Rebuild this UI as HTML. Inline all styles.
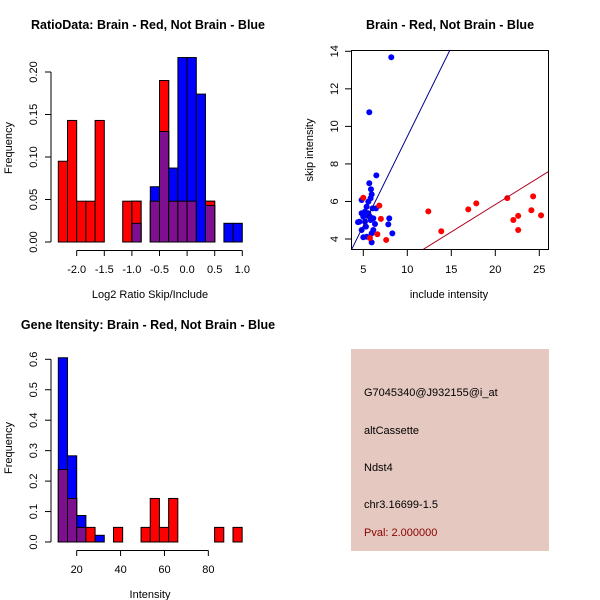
<!DOCTYPE html>
<html><head><meta charset="utf-8"><style>
html,body{margin:0;padding:0;background:#fff;}
svg{display:block;font-family:"Liberation Sans",sans-serif;}
</style></head><body>
<svg id="c" width="600" height="600" viewBox="0 0 600 600"></svg>
<script>
// Panel 1: ratio histogram
const ratioBinStart = -2.3333, ratioBinWidth = 1/6;
const ratioRed = [0.095,0.143,0.048,0.048,0.143,0,0,0.048,0.048,0,0.048,0.19,0.048,0.048,0.048,0,0.048,0,0,0];
const ratioBlue = [0,0,0,0,0,0,0,0,0.022,0,0.065,0.13,0.087,0.217,0.217,0.174,0.043,0,0.022,0.022];
const ratioXTicks = [-2.0,-1.5,-1.0,-0.5,0.0,0.5,1.0];
const ratioXTickLabels = ["-2.0","-1.5","-1.0","-0.5","0.0","0.5","1.0"];
const ratioYTicks = [0,0.05,0.10,0.15,0.20];
const ratioYTickLabels = ["0.00","0.05","0.10","0.15","0.20"];
// Panel 2: scatter
const redInclude = [5.0,6.82,7.0,6.6,7.6,5.76,12.39,13.86,16.93,17.84,21.36,22.05,22.6,22.6,24.1,24.3,25.2];
const redSkip =    [6.2,5.78,5.07,4.25,3.95,4.05,5.47,4.41,5.58,5.90,6.18,5.01,5.23,4.48,5.53,6.27,5.26];
const blueInclude = [8.18,5.68,6.48,5.68,5.87,5.95,5.83,4.81,5.57,5.38,6.06,6.44,5.19,5.57,4.81,5.0,5.76,4.55,5.19,4.81,5.3,6.33,7.95,7.84,8.3,5.0,5.68,5.95,6.14,5.95,5.38,5.83,6.14,5.38,4.4,5.1];
const blueSkip =    [13.68,10.75,7.39,6.97,6.65,6.38,6.17,6.08,5.99,5.72,5.63,5.63,5.46,5.37,5.37,5.19,5.19,4.92,4.92,4.48,4.66,4.8,5.1,4.78,4.3,4.09,4.09,4.3,4.48,3.82,4.12,5.01,5.1,5.28,4.9,5.3];
const blueLine = [3.68,3.45,14.85,14.07];
const redLine = [11.82,3.45,26.02,7.59];
const scatXTicks = [5,10,15,20,25];
const scatYTicks = [4,6,8,10,12,14];
// Panel 3: intensity histogram
const intBinStart = 11.62, intBinWidth = 4.19;
const intRed = [0.238,0.143,0.048,0.048,0,0,0.048,0,0,0.048,0.143,0.048,0.143,0,0,0,0,0.048,0,0.048];
const intBlue = [0.605,0.283,0.087,0,0.022,0,0,0,0,0,0,0,0,0,0,0,0,0,0,0];
const intXTicks = [20,40,60,80];
const intYTicks = [0,0.1,0.2,0.3,0.4,0.5,0.6];
const intYTickLabels = ["0.0","0.1","0.2","0.3","0.4","0.5","0.6"];

const svg = document.getElementById('c');
const NS = 'http://www.w3.org/2000/svg';
function mk(tag, attrs, parent, text){
  const e = document.createElementNS(NS, tag);
  for (const k in attrs) e.setAttribute(k, attrs[k]);
  if (text !== undefined) e.textContent = text;
  (parent||svg).appendChild(e);
  return e;
}
const PURPLE = '#7e1090';

function histogram(name, g, xs, ys, start, width, red, blue, y0) {
  for (let i = 0; i < red.length; i++) {
    const xl = xs(start + i*width), xr = xs(start + (i+1)*width);
    const r = red[i], b = blue[i], m = Math.min(r,b);
    if (r > 0) {
      const e = mk('rect',{x:xl,y:ys(r),width:xr-xl,height:y0-ys(r),fill:'#ff0000',stroke:'#000','stroke-width':1},g);
      
      
    }
    if (b > 0) {
      const e = mk('rect',{x:xl,y:ys(b),width:xr-xl,height:y0-ys(b),fill:'#0000ff',stroke:'#000','stroke-width':1},g);
      
      
    }
    if (r > 0 && b > 0) {
      if (r > b) {
        const e = mk('rect',{x:xl,y:ys(r),width:xr-xl,height:y0-ys(r),fill:'#ff0000',stroke:'#000','stroke-width':1},g);
        
        
      }
      const e = mk('rect',{x:xl,y:ys(m),width:xr-xl,height:y0-ys(m),fill:PURPLE,stroke:'#000','stroke-width':1},g);
      
      
    }
  }
}

// ---------- Panel 1 ----------
(function(){
  const g = mk('g',{});
  
  
  const xs = v => 76.7 + (v + 2.0) * 55.2;
  const ys = v => 242 - v * 850;
  histogram('ratio', g, xs, ys, ratioBinStart, ratioBinWidth, ratioRed, ratioBlue, 242);
  const t = mk('text',{x:148,y:29,'text-anchor':'middle','font-size':12.5,'font-weight':'bold'},g,'RatioData: Brain - Red, Not Brain - Blue');
   
  const ya = mk('line',{x1:51,x2:51,y1:ys(0),y2:ys(0.20),stroke:'#000'},g);
   
  ratioYTicks.forEach((v,i)=>{
    mk('line',{x1:45,x2:51,y1:ys(v),y2:ys(v),stroke:'#000'},g);
    const l = mk('text',{x:0,y:0,transform:`translate(37,${ys(v)}) rotate(-90)`,'text-anchor':'middle','font-size':11},g,ratioYTickLabels[i]);
     
  });
  const xa = mk('line',{x1:xs(-2),x2:xs(1),y1:250.5,y2:250.5,stroke:'#000'},g);
   
  ratioXTicks.forEach((v,i)=>{
    mk('line',{x1:xs(v),x2:xs(v),y1:250.5,y2:256,stroke:'#000'},g);
    const l = mk('text',{x:xs(v),y:273,'text-anchor':'middle','font-size':11},g,ratioXTickLabels[i]);
     
  });
  const xl = mk('text',{x:150,y:298,'text-anchor':'middle','font-size':11},g,'Log2 Ratio Skip/Include');
   
  const yl = mk('text',{x:0,y:0,transform:'translate(12,148) rotate(-90)','text-anchor':'middle','font-size':11},g,'Frequency');
   
})();

// ---------- Panel 2 ----------
(function(){
  const g = mk('g',{});
  
  
  const xs = v => 363.3 + (v - 5) * 8.8;
  const ys = v => 239 - (v - 4) * 18.77;
  mk('clipPath',{id:'sc'},g).appendChild((()=>{const r=document.createElementNS(NS,'rect');r.setAttribute('x',351.5);r.setAttribute('y',50.5);r.setAttribute('width',197);r.setAttribute('height',199);return r;})());
  const t = mk('text',{x:450,y:29,'text-anchor':'middle','font-size':12.5,'font-weight':'bold'},g,'Brain - Red, Not Brain - Blue');
   
  const box = mk('rect',{x:351.5,y:50.5,width:197,height:199,fill:'none',stroke:'#000'},g);
   
  const cg = mk('g',{'clip-path':'url(#sc)'},g);
  blueInclude.forEach((v,i)=>{
    const c = mk('circle',{cx:xs(v),cy:ys(blueSkip[i]),r:3,fill:'#0000ff'},cg);
     
  });
  redInclude.forEach((v,i)=>{
    const c = mk('circle',{cx:xs(v),cy:ys(redSkip[i]),r:3,fill:'#ff0000'},cg);
     
  });
  const bl = mk('line',{x1:xs(blueLine[0]),y1:ys(blueLine[1]),x2:xs(blueLine[2]),y2:ys(blueLine[3]),stroke:'#00008b','stroke-width':1},cg);
   
  const rl = mk('line',{x1:xs(redLine[0]),y1:ys(redLine[1]),x2:xs(redLine[2]),y2:ys(redLine[3]),stroke:'#b00020','stroke-width':1},cg);
   
  scatYTicks.forEach(v=>{
    mk('line',{x1:345,x2:351.5,y1:ys(v),y2:ys(v),stroke:'#000'},g);
    const l = mk('text',{x:0,y:0,transform:`translate(338,${ys(v)}) rotate(-90)`,'text-anchor':'middle','font-size':11},g,String(v));
     
  });
  scatXTicks.forEach(v=>{
    mk('line',{x1:xs(v),x2:xs(v),y1:249.5,y2:256,stroke:'#000'},g);
    const l = mk('text',{x:xs(v),y:273,'text-anchor':'middle','font-size':11},g,String(v));
     
  });
  const xl = mk('text',{x:449,y:298,'text-anchor':'middle','font-size':11},g,'include intensity');
   
  const yl = mk('text',{x:0,y:0,transform:'translate(313,150) rotate(-90)','text-anchor':'middle','font-size':11},g,'skip intensity');
   
})();

// ---------- Panel 3 ----------
(function(){
  const g = mk('g',{});
  
  
  const xs = v => 76.7 + (v - 20) * 2.194;
  const ys = v => 542 - v * 304.5;
  histogram('intensity', g, xs, ys, intBinStart, intBinWidth, intRed, intBlue, 542);
  const t = mk('text',{x:148,y:329,'text-anchor':'middle','font-size':12.5,'font-weight':'bold'},g,'Gene Itensity: Brain - Red, Not Brain - Blue');
   
  const ya = mk('line',{x1:51,x2:51,y1:ys(0),y2:ys(0.6),stroke:'#000'},g);
   
  intYTicks.forEach((v,i)=>{
    mk('line',{x1:45,x2:51,y1:ys(v),y2:ys(v),stroke:'#000'},g);
    const l = mk('text',{x:0,y:0,transform:`translate(37,${ys(v)}) rotate(-90)`,'text-anchor':'middle','font-size':11},g,intYTickLabels[i]);
     
  });
  const xa = mk('line',{x1:xs(20),x2:xs(80),y1:550.5,y2:550.5,stroke:'#000'},g);
   
  intXTicks.forEach(v=>{
    mk('line',{x1:xs(v),x2:xs(v),y1:550.5,y2:556,stroke:'#000'},g);
    const l = mk('text',{x:xs(v),y:573,'text-anchor':'middle','font-size':11},g,String(v));
     
  });
  const xl = mk('text',{x:150,y:598,'text-anchor':'middle','font-size':11},g,'Intensity');
   
  const yl = mk('text',{x:0,y:0,transform:'translate(12,448) rotate(-90)','text-anchor':'middle','font-size':11},g,'Frequency');
   
})();

// ---------- Panel 4: info box ----------
(function(){
  const g = mk('g',{});
  
  
  const r = mk('rect',{x:351,y:349,width:198,height:202,fill:'#e5c8c0'},g);
   
  const lines = [['G7045340@J932155@i_at',396,'#000','probe-id'],['altCassette',434,'#000','event-type'],['Ndst4',471,'#000','gene-name'],['chr3.16699-1.5',508,'#000','location'],['Pval: 2.000000',536,'#8b0000','p-value']];
  lines.forEach(l=>{
    const e = mk('text',{x:364,y:l[1],'font-size':11,fill:l[2]},g,l[0]);
    
    
  });
})();
</script>
</body></html>
